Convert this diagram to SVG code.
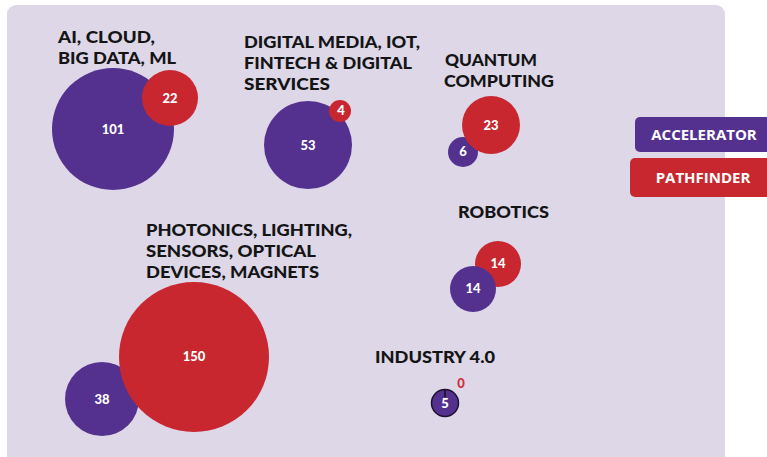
<svg xmlns="http://www.w3.org/2000/svg" width="767" height="457" viewBox="0 0 767 457">
<style>
.lbl{font-family:Lato,"Open Sans",sans-serif;font-weight:900;font-size:17px;fill:#141414}
.num{font-family:Lato,"Open Sans",sans-serif;font-weight:900;font-size:13px;fill:#ffffff;text-anchor:middle}
.acc{fill:#54318f}
.pth{fill:#c9272f}
.leg{font-family:"Open Sans",sans-serif;font-weight:700;font-size:15px;fill:#ffffff;text-anchor:middle}
</style>
<rect x="0" y="0" width="767" height="457" fill="#ffffff"/>
<rect x="7" y="5" width="718" height="470" rx="9" fill="#ddd7e8"/>
<g id="ai">
<text class="lbl" x="58" y="43" textLength="97" lengthAdjust="spacingAndGlyphs">AI, CLOUD,</text>
<text class="lbl" x="58" y="64" textLength="118" lengthAdjust="spacingAndGlyphs">BIG DATA, ML</text>
<circle class="acc" cx="113" cy="129" r="61"/>
<circle class="pth" cx="170" cy="98" r="28"/>
<text class="num" x="113" y="134">101</text>
<text class="num" x="170" y="103">22</text>
</g>
<g id="digital">
<text class="lbl" x="244" y="48" textLength="176" lengthAdjust="spacingAndGlyphs">DIGITAL MEDIA, IOT,</text>
<text class="lbl" x="244" y="69" textLength="168" lengthAdjust="spacingAndGlyphs">FINTECH &amp; DIGITAL</text>
<text class="lbl" x="244" y="90" textLength="86" lengthAdjust="spacingAndGlyphs">SERVICES</text>
<circle class="acc" cx="308" cy="145" r="44"/>
<circle class="pth" cx="340" cy="111" r="11"/>
<text class="num" x="341" y="115">4</text>
<text class="num" x="308" y="150">53</text>
</g>
<g id="quantum">
<text class="lbl" x="445" y="66" textLength="92" lengthAdjust="spacingAndGlyphs">QUANTUM</text>
<text class="lbl" x="444" y="87" textLength="110" lengthAdjust="spacingAndGlyphs">COMPUTING</text>
<circle class="acc" cx="463" cy="152" r="15"/>
<circle class="pth" cx="491" cy="125" r="29"/>
<text class="num" x="491" y="130">23</text>
<text class="num" x="463" y="156">6</text>
</g>
<g id="robotics">
<text class="lbl" x="458" y="218" textLength="91" lengthAdjust="spacingAndGlyphs">ROBOTICS</text>
<circle class="pth" cx="498" cy="264" r="23"/>
<circle class="acc" cx="473" cy="289" r="23"/>
<text class="num" x="498" y="268">14</text>
<text class="num" x="473" y="293">14</text>
</g>
<g id="photonics">
<text class="lbl" x="146" y="236" textLength="206" lengthAdjust="spacingAndGlyphs">PHOTONICS, LIGHTING,</text>
<text class="lbl" x="146" y="257" textLength="170" lengthAdjust="spacingAndGlyphs">SENSORS, OPTICAL</text>
<text class="lbl" x="146" y="278" textLength="173" lengthAdjust="spacingAndGlyphs">DEVICES, MAGNETS</text>
<circle class="acc" cx="102" cy="399" r="37"/>
<circle class="pth" cx="194" cy="357" r="75"/>
<text class="num" x="194" y="361">150</text>
<text class="num" x="102" y="404">38</text>
</g>
<g id="industry">
<text class="lbl" x="375" y="363" textLength="120" lengthAdjust="spacingAndGlyphs">INDUSTRY 4.0</text>
<circle class="acc" cx="445" cy="403" r="13.5" stroke="#1e1030" stroke-width="1.5"/>
<line x1="445" y1="390" x2="445" y2="397" stroke="#111" stroke-width="1.5"/>
<text class="num" x="445" y="408">5</text>
<text class="num" x="461" y="388" style="fill:#d0303c">0</text>
</g>
<g id="connectors"></g>
<g id="legend">
<rect class="acc" x="635" y="117" width="140" height="35" rx="5"/>
<text class="leg" x="704" y="140">ACCELERATOR</text>
<rect class="pth" x="630" y="158" width="145" height="39" rx="5"/>
<text class="leg" x="703" y="183">PATHFINDER</text>
</g>
</svg>
